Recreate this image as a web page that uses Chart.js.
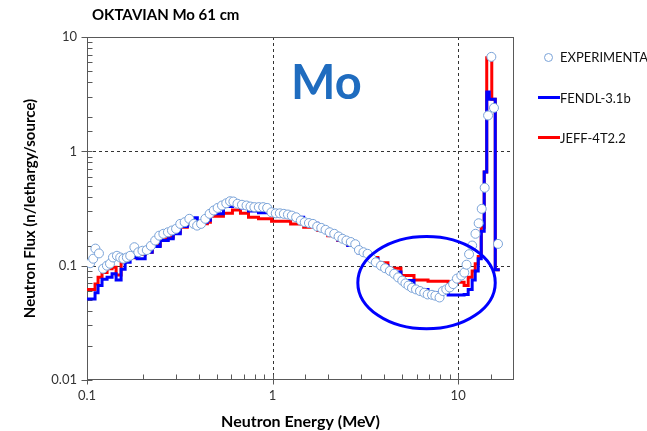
<!DOCTYPE html>
<html>
<head>
<meta charset="utf-8">
<script src="https://cdn.jsdelivr.net/npm/chart.js@4.4.1/dist/chart.umd.min.js"></script>
<style>
  html, body { margin: 0; padding: 0; background: #fff; }
  #wrap { position: relative; width: 647px; height: 431px; overflow: hidden; font-family: Lato, "Liberation Sans", sans-serif; }
  #chart { position: absolute; left: 0; top: 0; }
  .title { position: absolute; left: 92px; top: 5px; font-weight: bold; font-size: 15px; line-height: 18px; color: #000; white-space: nowrap; }
  .big { position: absolute; left: 291px; top: 58px; font-weight: bold; font-size: 47px; line-height: 1; color: #1f6cbf; }
  .leg { position: absolute; left: 560px; font-size: 13px; line-height: 16px; color: #111; white-space: nowrap; }
  .dot { position: absolute; width: 7px; height: 7px; border: 1px solid #7aa3d8; border-radius: 50%; background: #fff; }
  .bar { position: absolute; width: 22px; height: 3px; }
</style>
</head>
<body>
<div id="wrap">
  <canvas id="chart" width="647" height="431"></canvas>
  <div class="title">OKTAVIAN Mo 61 cm</div>
  <div class="big">Mo</div>

  <div class="dot" style="left:544px; top:53px;"></div>
  <div class="leg" style="top:49px;">EXPERIMENTAL</div>
  <div class="bar" style="left:538px; top:96px; background:#0000ff;"></div>
  <div class="leg" style="top:90px;">FENDL-3.1b</div>
  <div class="bar" style="left:538px; top:136px; background:#ff0000;"></div>
  <div class="leg" style="top:130px;">JEFF-4T2.2</div>
</div>

<script>
// measured points (MeV, n/lethargy/source)
const expEnergy = [0.104, 0.108, 0.111, 0.116, 0.122, 0.128, 0.133, 0.138, 0.145, 0.151,
  0.157, 0.164, 0.171, 0.180, 0.189, 0.199, 0.210, 0.221, 0.233, 0.245,
  0.258, 0.273, 0.287, 0.302, 0.318, 0.336, 0.356, 0.376, 0.392, 0.412,
  0.434, 0.458, 0.482, 0.506, 0.534, 0.563, 0.590, 0.615, 0.647, 0.684,
  0.724, 0.760, 0.798, 0.843, 0.890, 0.935, 0.986, 1.04, 1.094, 1.15,
  1.21, 1.27, 1.34, 1.42, 1.49, 1.57, 1.65, 1.74, 1.83, 1.93,
  2.03, 2.15, 2.27, 2.38, 2.50, 2.64, 2.79, 2.92, 3.09, 3.25,
  3.42, 3.60, 3.84, 4.04, 4.29, 4.52, 4.75, 5.0, 5.2, 5.4,
  5.64, 5.93, 6.23, 6.57, 6.85, 7.23, 7.54, 7.94, 8.27, 8.63,
  9.0, 9.4, 9.85, 10.4, 10.8, 11.1, 11.45, 11.9, 12.4, 12.9,
  13.4, 13.9, 14.5, 15.1, 15.6, 16.4];
const expFlux = [0.105, 0.115, 0.141, 0.128, 0.094, 0.100, 0.104, 0.118, 0.122, 0.118,
  0.115, 0.118, 0.122, 0.145, 0.131, 0.135, 0.137, 0.149, 0.166, 0.183,
  0.190, 0.196, 0.203, 0.210, 0.232, 0.240, 0.257, 0.232, 0.224, 0.232,
  0.257, 0.284, 0.304, 0.320, 0.336, 0.351, 0.366, 0.364, 0.348, 0.341,
  0.336, 0.329, 0.325, 0.325, 0.325, 0.320, 0.293, 0.287, 0.287, 0.284,
  0.280, 0.274, 0.265, 0.248, 0.240, 0.236, 0.232, 0.220, 0.214, 0.206,
  0.196, 0.190, 0.180, 0.172, 0.166, 0.161, 0.154, 0.137, 0.131, 0.127,
  0.115, 0.107, 0.100, 0.095, 0.090, 0.085, 0.079, 0.074, 0.070, 0.067,
  0.064, 0.062, 0.060, 0.058, 0.056, 0.0556, 0.0546, 0.0527, 0.060, 0.062,
  0.0645, 0.069, 0.077, 0.082, 0.087, 0.102, 0.126, 0.150, 0.190, 0.235,
  0.314, 0.48, 2.06, 6.7, 2.4, 0.155];

// calculation group structure (MeV) and per-group flux
const binEdges = [0.1, 0.1105, 0.1147, 0.1205, 0.1283, 0.1365, 0.1435, 0.1527, 0.1605, 0.1708,
  0.1863, 0.2058, 0.2246, 0.2481, 0.2741, 0.2916, 0.3183, 0.3472, 0.3932, 0.4453,
  0.4623, 0.5435, 0.6078, 0.6714, 0.7419, 0.8401, 0.9876, 1.251, 1.471, 1.751,
  1.983, 2.246, 2.543, 2.88, 3.262, 3.695, 4.184, 4.92, 5.784, 6.883,
  8.83, 10.77, 11.33, 11.9, 12.36, 12.83, 13.32, 13.82, 14.26, 14.71,
  15.18, 15.85, 16.76];
const fendlFlux = [0.051, 0.058, 0.067, 0.076, 0.079, 0.085, 0.075, 0.093, 0.107, 0.118,
  0.115, 0.131, 0.147, 0.166, 0.172, 0.190, 0.220, 0.262, 0.240, 0.250,
  0.285, 0.330, 0.345, 0.320, 0.300, 0.290, 0.280, 0.265, 0.235, 0.210,
  0.190, 0.168, 0.150, 0.130, 0.115, 0.100, 0.088, 0.074, 0.062, 0.058,
  0.0555, 0.056, 0.062, 0.075, 0.090, 0.115, 0.200, 0.66, 3.3, 2.85,
  2.85, 0.092];
const jeffFlux = [0.062, 0.069, 0.079, 0.087, 0.094, 0.097, 0.083, 0.107, 0.117, 0.117,
  0.125, 0.131, 0.150, 0.171, 0.177, 0.196, 0.217, 0.245, 0.233, 0.240,
  0.270, 0.287, 0.307, 0.287, 0.265, 0.257, 0.245, 0.232, 0.217, 0.203,
  0.183, 0.166, 0.150, 0.132, 0.118, 0.106, 0.095, 0.082, 0.075, 0.073,
  0.0715, 0.067, 0.079, 0.090, 0.104, 0.120, 0.217, 0.66, 6.6, 6.6,
  2.85, 0.092];

const xTickLabels = [0.1, 1, 10];
const yTickLabels = [0.01, 0.1, 1, 10];
const xGridValues = [1, 10];
const yGridValues = [0.1, 1];
// region circled on the plot (energy and flux bounds)
const circleE = [2.88, 15.85];
const circleF = [0.028, 0.18];

const FONT = 'Lato, "Liberation Sans", sans-serif';

// histogram -> line points with vertical steps at group boundaries
function toSteps(edges, vals) {
  const pts = [];
  vals.forEach((v, i) => {
    pts.push({ x: edges[i], y: v });
    pts.push({ x: edges[i + 1], y: v });
  });
  return pts;
}

const isDecade = (v) => Math.abs(Math.log10(v) - Math.round(Math.log10(v))) < 1e-6;

const framePlugin = {
  id: "frame",
  beforeDatasetsDraw(chart) {
    const { ctx, chartArea: a, scales: { x, y } } = chart;
    ctx.save();
    ctx.lineWidth = 1;

    // dashed grid at the decades
    ctx.strokeStyle = "#333";
    ctx.setLineDash([3, 3]);
    xGridValues.forEach((v) => {
      const px = Math.round(x.getPixelForValue(v)) + 0.5;
      ctx.beginPath(); ctx.moveTo(px, a.top); ctx.lineTo(px, a.bottom); ctx.stroke();
    });
    yGridValues.forEach((v) => {
      const py = Math.round(y.getPixelForValue(v)) + 0.5;
      ctx.beginPath(); ctx.moveTo(a.left, py); ctx.lineTo(a.right, py); ctx.stroke();
    });
    ctx.setLineDash([]);

    // plot box
    ctx.strokeStyle = "#595959";
    ctx.strokeRect(Math.round(a.left) + 0.5, Math.round(a.top) + 0.5,
      Math.round(a.width) - 1, Math.round(a.height) - 1);

    // tick marks: minor inside, major crossing
    const bottom = Math.round(a.bottom) - 0.5;
    x.ticks.forEach((t) => {
      const px = Math.round(x.getPixelForValue(t.value)) + 0.5;
      if (px > a.right) return;
      ctx.beginPath();
      ctx.moveTo(px, isDecade(t.value) ? bottom + 5 : bottom);
      ctx.lineTo(px, bottom - 5);
      ctx.stroke();
    });
    const left = Math.round(a.left) + 0.5;
    y.ticks.forEach((t) => {
      const py = Math.round(y.getPixelForValue(t.value)) + 0.5;
      ctx.beginPath();
      ctx.moveTo(isDecade(t.value) ? left - 6 : left, py);
      ctx.lineTo(left + 5, py);
      ctx.stroke();
    });
    ctx.restore();
  },
  afterDatasetsDraw(chart) {
    const { ctx, scales: { x, y } } = chart;
    const l = x.getPixelForValue(circleE[0]), r = x.getPixelForValue(circleE[1]);
    const t = y.getPixelForValue(circleF[1]), b = y.getPixelForValue(circleF[0]);
    ctx.save();
    ctx.beginPath();
    ctx.ellipse((l + r) / 2, (t + b) / 2, (r - l) / 2, (b - t) / 2, 0, 0, Math.PI * 2);
    ctx.strokeStyle = "#0000ff";
    ctx.lineWidth = 3;
    ctx.stroke();
    ctx.restore();
  }
};

new Chart(document.getElementById("chart"), {
  type: "line",
  data: {
    datasets: [
      {
        label: "EXPERIMENTAL",
        data: expEnergy.map((e, i) => ({ x: e, y: expFlux[i] })),
        showLine: false,
        pointRadius: 4.5,
        pointBorderWidth: 1,
        pointBorderColor: "#7aa3d8",
        pointBackgroundColor: "#ffffff",
        order: 0,
      },
      {
        label: "FENDL-3.1b",
        data: toSteps(binEdges, fendlFlux),
        borderColor: "#0000ff",
        borderWidth: 3,
        pointRadius: 0,
        tension: 0,
        order: 1,
      },
      {
        label: "JEFF-4T2.2",
        data: toSteps(binEdges, jeffFlux),
        borderColor: "#ff0000",
        borderWidth: 3,
        pointRadius: 0,
        tension: 0,
        order: 2,
      },
    ],
  },
  options: {
    responsive: false,
    animation: false,
    layout: { padding: { top: 37, right: 133, left: 0, bottom: 0 } },
    plugins: { legend: { display: false }, tooltip: { enabled: false } },
    scales: {
      x: {
        type: "logarithmic",
        min: 0.1,
        max: 20,
        grid: { display: false, drawTicks: false },
        border: { display: false },
        ticks: {
          autoSkip: false,
          maxRotation: 0,
          padding: 8,
          color: "#333",
          font: { family: FONT, size: 13 },
          callback: (v) => (xTickLabels.some((t) => Math.abs(t - v) < 1e-9) ? String(v) : ""),
        },
        title: {
          display: true,
          text: "Neutron Energy (MeV)",
          color: "#000",
          font: { family: FONT, size: 16, weight: "bold" },
          padding: { top: 0, bottom: 0 },
        },
        afterFit: (s) => { s.height = 51; },
      },
      y: {
        type: "logarithmic",
        min: 0.01,
        max: 10,
        grid: { display: false, drawTicks: false },
        border: { display: false },
        ticks: {
          autoSkip: false,
          padding: 10,
          color: "#333",
          font: { family: FONT, size: 13 },
          callback: (v) => (yTickLabels.some((t) => Math.abs(t - v) < 1e-9) ? String(v) : ""),
        },
        title: {
          display: true,
          text: "Neutron Flux (n/lethargy/source)",
          color: "#000",
          font: { family: FONT, size: 15, weight: "bold" },
          padding: { top: 21, bottom: 0 },
        },
        afterFit: (s) => { s.width = 87; },
      },
    },
  },
  plugins: [framePlugin],
});
</script>
</body>
</html>
